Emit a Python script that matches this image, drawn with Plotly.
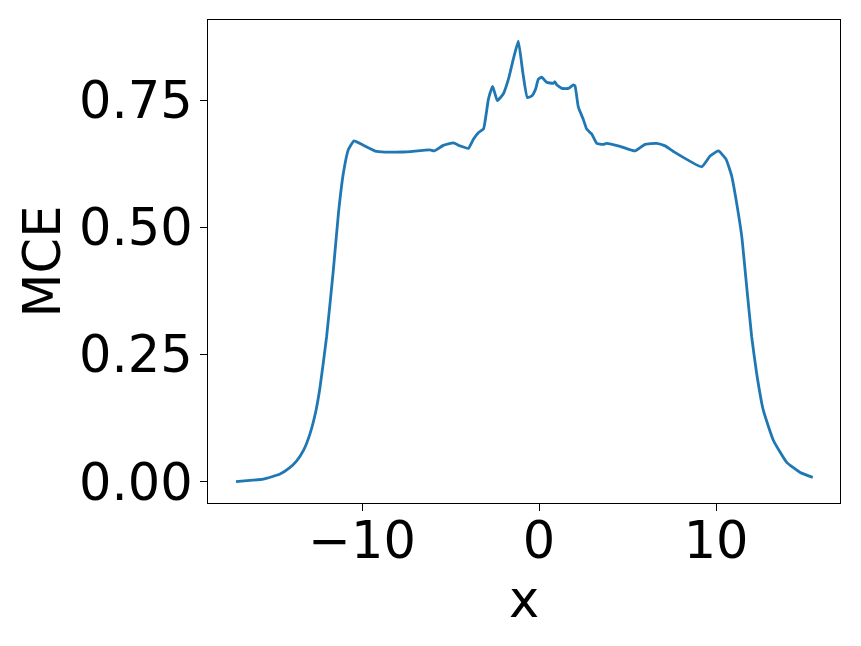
import plotly.graph_objects as go

x_vals = [-17.12, -16.5, -15.58, -14.63, -14.1, -13.69, -13.3, -12.94, -12.6, -12.37,
          -12.0, -11.62, -11.33, -11.05, -10.77, -10.45, -10.02, -9.17, -7.67, -6.16,
          -5.93, -5.41, -4.84, -4.46, -3.99, -3.71, -3.43, -3.14, -2.86, -2.62,
          -2.36, -2.02, -1.73, -1.45, -1.17, -0.92, -0.66, -0.41, -0.19, -0.04,
          0.15, 0.43, 0.81, 0.90, 1.0, 1.28, 1.66, 1.94, 2.03, 2.22,
          2.50, 2.69, 2.98, 3.26, 3.63, 3.82, 4.58, 5.42, 5.99, 6.65,
          7.12, 7.59, 9.19, 9.66, 10.13, 10.56, 10.88, 11.16, 11.45, 11.73,
          12.01, 12.29, 12.67, 13.24, 13.99, 14.75, 15.46]
mce_vals = [0.000, 0.002, 0.005, 0.015, 0.027, 0.041, 0.062, 0.094, 0.140, 0.186,
            0.285, 0.416, 0.528, 0.607, 0.653, 0.670, 0.663, 0.649, 0.648, 0.652,
            0.650, 0.661, 0.666, 0.660, 0.655, 0.673, 0.686, 0.693, 0.752, 0.777,
            0.749, 0.762, 0.791, 0.831, 0.866, 0.805, 0.755, 0.758, 0.772, 0.791,
            0.795, 0.785, 0.783, 0.786, 0.780, 0.773, 0.773, 0.780, 0.778, 0.736,
            0.712, 0.693, 0.683, 0.665, 0.663, 0.665, 0.659, 0.650, 0.663, 0.665,
            0.660, 0.649, 0.619, 0.640, 0.650, 0.634, 0.601, 0.548, 0.482, 0.383,
            0.285, 0.213, 0.140, 0.081, 0.038, 0.018, 0.0085]

x_ticks = [-10, 0, 10]
x_tick_labels = ["\u221210", "0", "10"]
y_ticks = [0.0, 0.25, 0.5, 0.75]
y_tick_labels = ["0.00", "0.25", "0.50", "0.75"]

fig = go.Figure()
fig.add_trace(go.Scatter(x=x_vals, y=mce_vals, mode="lines",
                         line=dict(color="#1f77b4", width=2.8, shape="spline", smoothing=0.4),
                         showlegend=False))

font = dict(family="DejaVu Sans", size=51, color="black")
fig.update_layout(
    width=861, height=646,
    margin=dict(l=208, r=21, t=20, b=143),
    paper_bgcolor="white", plot_bgcolor="white",
    font=font,
    xaxis=dict(range=[-18.70, 17.0], tickvals=x_ticks, ticktext=x_tick_labels,
               ticks="outside", ticklen=7, tickwidth=1.3, tickcolor="black",
               showline=True, linecolor="black", linewidth=1.3, mirror=True,
               showgrid=False, zeroline=False, tickfont=font, automargin=False,
               ticklabelstandoff=-14,
               title=dict(text="x", font=font, standoff=4)),
    yaxis=dict(range=[-0.0419, 0.9074], tickvals=y_ticks, ticktext=y_tick_labels,
               ticks="outside", ticklen=7, tickwidth=1.3, tickcolor="black",
               showline=True, linecolor="black", linewidth=1.3, mirror=True,
               showgrid=False, zeroline=False, tickfont=font, automargin=False,
               ticklabelstandoff=-3,
               title=dict(text="MCE", font=font, standoff=2)),
)
fig.write_html("out.html", config={"displayModeBar": False},
               post_script="document.body.style.margin='0';document.body.style.overflow='hidden';")
